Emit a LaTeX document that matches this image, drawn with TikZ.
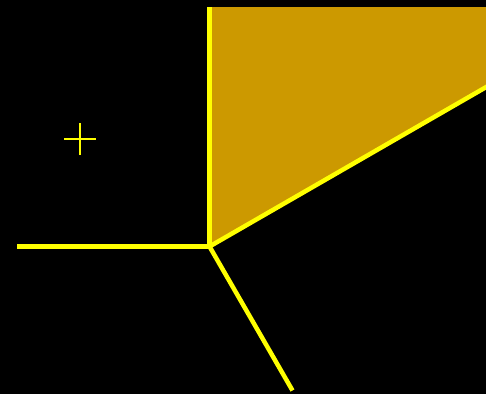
\documentclass[tikz,border=0pt]{standalone}
\definecolor{edgeyellow}{RGB}{255,255,0}
\definecolor{cellgold}{RGB}{204,153,0}
\begin{document}
\begin{tikzpicture}[x=1pt, y=-1pt]
    \fill[black] (0,0) rectangle (486,394);
    \useasboundingbox (0,0) rectangle (486,394);

    \coordinate (vtx) at (209.5, 246.5);
    \coordinate (top) at (209.5, 7);
    \coordinate (west) at (17, 246.5);
    \coordinate (south) at (292.5, 390.5);
    \coordinate (east) at (488, 86);

    \fill[cellgold] (vtx) -- (top) -- (486,7) -- (486,86) -- cycle;

    \draw[edgeyellow, line width=4.5pt] (vtx) -- (top);
    \draw[edgeyellow, line width=4.5pt] (vtx) -- (west);
    \draw[edgeyellow, line width=4.5pt] (vtx) -- (south);
    \draw[edgeyellow, line width=4.5pt] (vtx) -- (east);

    \coordinate (site) at (80, 139);
    \draw[edgeyellow, line width=1.5pt] ([xshift=-16pt]site) -- ([xshift=16pt]site)
        ([yshift=-16pt]site) -- ([yshift=16pt]site);
\end{tikzpicture}
\end{document}
